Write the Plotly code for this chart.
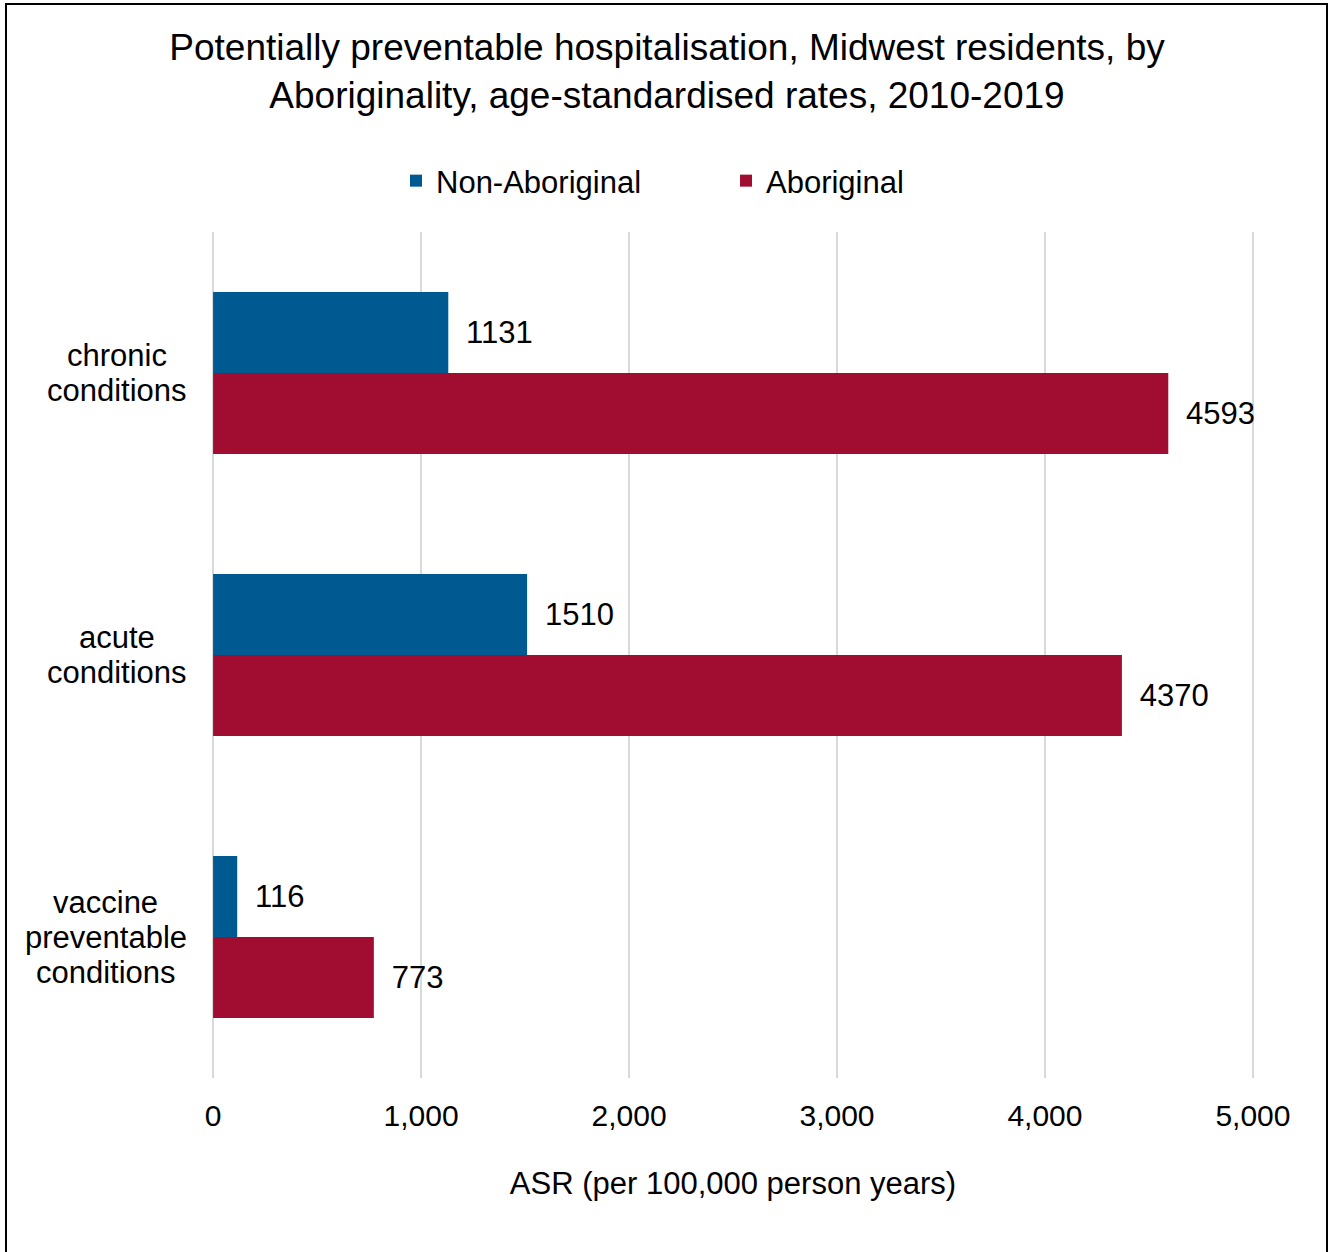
import plotly.graph_objects as go

# Chart data
categories = ["chronic conditions", "acute conditions", "vaccine preventable conditions"]
category_lines = [["chronic", "conditions"], ["acute", "conditions"],
                  ["vaccine", "preventable", "conditions"]]
non_aboriginal = [1131, 1510, 116]
aboriginal = [4593, 4370, 773]
x_ticks = [0, 1000, 2000, 3000, 4000, 5000]
x_tick_labels = ["0", "1,000", "2,000", "3,000", "4,000", "5,000"]

BLUE = "#005A92"
RED = "#A00D30"
FONT = "Liberation Sans, Arial, sans-serif"
W, H = 1331, 1252
ML, MR, MT, MB = 211, 76, 232, 174
PW, PH = W - ML - MR, H - MT - MB
LABEL_SIZE = 31

pad = "\u00a0\u2009"

fig = go.Figure()
fig.add_trace(go.Bar(
    y=categories, x=non_aboriginal, orientation="h", name="Non-Aboriginal",
    marker=dict(color=BLUE, line=dict(width=0)),
    text=[pad + str(v) for v in non_aboriginal], textposition="outside",
    textfont=dict(size=LABEL_SIZE, color="#000000", family=FONT), cliponaxis=False,
    hoverinfo="x+name",
))
fig.add_trace(go.Bar(
    y=categories, x=aboriginal, orientation="h", name="Aboriginal",
    marker=dict(color=RED, line=dict(width=0)),
    text=[pad + str(v) for v in aboriginal], textposition="outside",
    textfont=dict(size=LABEL_SIZE, color="#000000", family=FONT), cliponaxis=False,
    hoverinfo="x+name",
))

# Centered multi-line category labels to the left of the bars (one line each)
LINE_GAP = 35
annotations = []
for cat, lines in zip(categories, category_lines):
    cx = 105.5 if len(lines) > 2 else 117
    n = len(lines)
    for i, line in enumerate(lines):
        annotations.append(dict(
            x=(cx - ML) / PW, xref="paper", xanchor="center",
            y=cat, yref="y", yanchor="middle",
            yshift=-(i - (n - 1) / 2) * LINE_GAP,
            text=line, showarrow=False,
            font=dict(size=LABEL_SIZE, color="#000000", family=FONT),
        ))

fig.update_layout(
    width=W, height=H,
    margin=dict(l=ML, r=MR, t=MT, b=MB),
    paper_bgcolor="#FFFFFF", plot_bgcolor="#FFFFFF",
    barmode="group", bargap=0.425, bargroupgap=0,
    font=dict(family=FONT, color="#000000", size=LABEL_SIZE),
    title=dict(
        text="Potentially preventable hospitalisation, Midwest residents, by<br>Aboriginality, age-standardised rates, 2010-2019",
        x=667 / W, xanchor="center", xref="container",
        y=1 - 60 / H, yanchor="top", yref="container",
        font=dict(size=37, family=FONT, color="#000000"),
    ),
    legend=dict(
        orientation="h", x=(396 - ML) / PW, xanchor="left",
        y=1 + (MT - 181) / PH, yanchor="middle",
        font=dict(size=LABEL_SIZE, family=FONT, color="#000000"),
        entrywidth=285, entrywidthmode="pixels",
        traceorder="normal", itemclick=False, itemdoubleclick=False,
    ),
    xaxis=dict(
        range=[-10, 5010], tickvals=x_ticks, ticktext=x_tick_labels,
        showgrid=True, gridcolor="#D9D9D9", gridwidth=2,
        zeroline=False, showline=False,
        ticks="outside", ticklen=11, tickcolor="rgba(0,0,0,0)",
        tickfont=dict(size=30, family=FONT, color="#000000"),
        title=dict(text="ASR (per 100,000 person years)", standoff=41,
                   font=dict(size=LABEL_SIZE, family=FONT, color="#000000")),
        fixedrange=True,
    ),
    yaxis=dict(
        categoryorder="array", categoryarray=categories, autorange="reversed",
        showticklabels=False, showgrid=False, zeroline=False, showline=False,
        ticks="", fixedrange=True,
    ),
    annotations=annotations,
    shapes=[dict(
        type="rect", xref="paper", yref="paper",
        x0=-(ML - 6) / PW, x1=1 + (1327 - (W - MR)) / PW,
        y0=-(H + 10 - (H - MB)) / PH, y1=1 + (MT - 4) / PH,
        line=dict(color="#000000", width=2), fillcolor="rgba(0,0,0,0)",
        layer="above",
    )],
)

fig.write_html("out.html", config={"displayModeBar": False})
